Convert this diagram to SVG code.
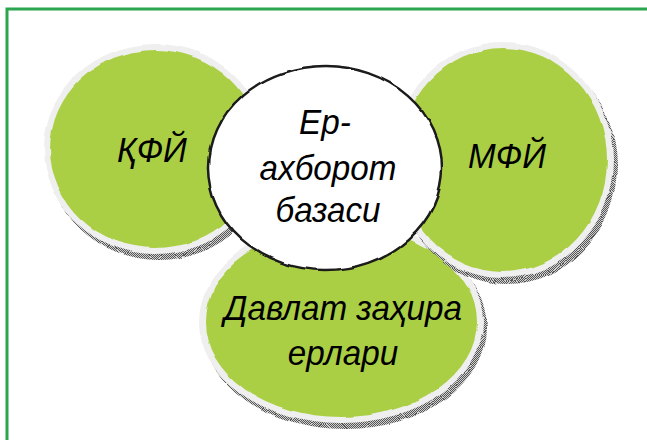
<svg xmlns="http://www.w3.org/2000/svg" width="647" height="440" viewBox="0 0 647 440">
  <style>
    .lbl { font-family: "Liberation Sans", Arial, sans-serif; font-style: italic; font-size: 35px; fill: #000; text-anchor: middle; }
    .shadow { fill: url(#dots); }
    .halo { fill: #efefef; }
    .green { fill: #aacf45; }
    .core { fill: #ffffff; stroke: #1a1a1a; stroke-width: 2.5; }
  </style>
  <defs>
    <pattern id="dots" width="2" height="2" patternUnits="userSpaceOnUse">
      <rect width="2" height="2" fill="#d0d0d0"/>
      <rect width="1" height="1" fill="#555"/>
      <rect x="1" y="1" width="1" height="1" fill="#555"/>
    </pattern>
    <filter id="wobble" x="-10%" y="-10%" width="120%" height="120%">
      <feTurbulence type="fractalNoise" baseFrequency="0.035" numOctaves="2" seed="3"/>
      <feDisplacementMap in="SourceGraphic" scale="4" xChannelSelector="R" yChannelSelector="G"/>
    </filter>
  </defs>
  <rect x="7" y="9" width="700" height="500" fill="none" stroke="#2ba64f" stroke-width="3"/>
  <g id="node-davlat" filter="url(#wobble)">
    <ellipse class="shadow" cx="345" cy="328" rx="142" ry="101"/>
    <ellipse class="halo" cx="341" cy="322" rx="142" ry="101"/>
    <ellipse class="green" cx="341" cy="322" rx="136" ry="95"/>
  </g>
  <g id="node-qfy" filter="url(#wobble)">
    <ellipse class="shadow" cx="159" cy="155" rx="111" ry="105"/>
    <ellipse class="halo" cx="155" cy="149" rx="111" ry="105"/>
    <ellipse class="green" cx="155" cy="149" rx="105" ry="99"/>
  </g>
  <g id="node-mfy" filter="url(#wobble)">
    <ellipse class="shadow" cx="507" cy="166" rx="110" ry="118"/>
    <ellipse class="halo" cx="503" cy="160" rx="110" ry="118"/>
    <ellipse class="green" cx="503" cy="160" rx="104" ry="112"/>
  </g>
  <g id="node-core">
    <ellipse class="core" cx="325" cy="168" rx="117" ry="102" filter="url(#wobble)"/>
  </g>
  <g id="labels" transform="scale(0.95,1)">
    <text class="lbl" x="160" y="162">ҚФЙ</text>
    <text class="lbl" x="533.7" y="168">МФЙ</text>
    <text class="lbl" x="342.1" y="134">Ер-</text>
    <text class="lbl" x="345.3" y="180">ахборот</text>
    <text class="lbl" x="345.3" y="222">базаси</text>
    <text class="lbl" x="361.1" y="320">Давлат заҳира</text>
    <text class="lbl" x="361.1" y="365">ерлари</text>
  </g>
  <g id="connectors"/>
</svg>
